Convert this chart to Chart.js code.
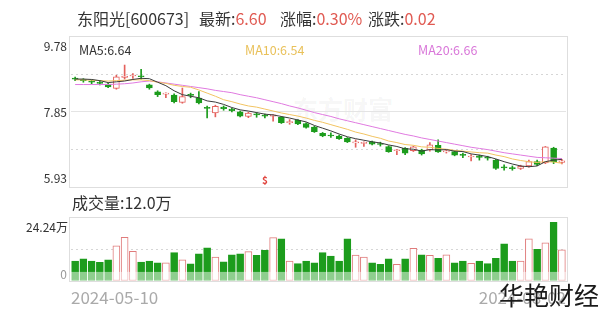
<!DOCTYPE html>
<html><head><meta charset="utf-8">
<script src="https://cdn.jsdelivr.net/npm/chart.js@4.4.1/dist/chart.umd.min.js"></script>
<style>
html,body{margin:0;padding:0;background:#fff;width:600px;height:313px;overflow:hidden;font-family:"Noto Sans CJK SC","Noto Sans",sans-serif;}
.t{position:absolute;white-space:nowrap;line-height:1;}
.r{color:#e05a52;}
#c1{position:absolute;left:0;top:0;}
#c2{position:absolute;left:0;top:190px;}
</style></head><body>
<div class="t" style="left:293px;top:96px;font-size:25px;color:rgba(0,0,0,0.05);font-weight:bold;">东方财富</div>
<canvas id="c1" width="600" height="190"></canvas>
<canvas id="c2" width="600" height="125"></canvas>
<div class="t" style="left:77px;top:10px;font-size:16px;color:#333">东阳光[600673]</div>
<div class="t" style="left:199px;top:10px;font-size:16px;color:#333">最新:<span class="r">6.60</span></div>
<div class="t" style="left:280px;top:10px;font-size:16px;color:#333">涨幅:<span class="r">0.30%</span></div>
<div class="t" style="left:368px;top:10px;font-size:16px;color:#333">涨跌:<span class="r">0.02</span></div>
<div class="t" style="left:79px;top:44px;font-size:12.5px;color:#333">MA5:6.64</div>
<div class="t" style="left:245px;top:44px;font-size:12.5px;color:#e9c15a">MA10:6.54</div>
<div class="t" style="left:418px;top:44px;font-size:12.5px;color:#d977d9">MA20:6.66</div>
<div class="t" style="left:72px;top:194px;font-size:16px;color:#333">成交量:12.0万</div>
<div class="t" style="left:499px;top:282px;font-size:25px;color:#1a1a1a;">华艳财经</div>
<script>
// ---- data ----
const dates = ["2024-05-10","2024-05-13","2024-05-14","2024-05-15","2024-05-16","2024-05-17","2024-05-20","2024-05-21","2024-05-22","2024-05-23","2024-05-24","2024-05-27","2024-05-28","2024-05-29","2024-05-30","2024-05-31","2024-06-03","2024-06-04","2024-06-05","2024-06-06","2024-06-07","2024-06-11","2024-06-12","2024-06-13","2024-06-14","2024-06-17","2024-06-18","2024-06-19","2024-06-20","2024-06-21","2024-06-24","2024-06-25","2024-06-26","2024-06-27","2024-06-28","2024-07-01","2024-07-02","2024-07-03","2024-07-04","2024-07-05","2024-07-08","2024-07-09","2024-07-10","2024-07-11","2024-07-12","2024-07-15","2024-07-16","2024-07-17","2024-07-18","2024-07-19","2024-07-22","2024-07-23","2024-07-24","2024-07-25","2024-07-26","2024-07-29","2024-07-30","2024-07-31","2024-08-01","2024-08-02"];
const openP = [8.72,8.69,8.65,8.60,8.57,8.46,8.74,8.78,8.78,8.55, 8.37,8.31,8.29,8.10,8.30,8.21,7.97,7.83,7.98,7.93, 7.86,7.74,7.80,7.77,7.75,7.72,7.58,7.64,7.56,7.47, 7.31,7.26,7.24,7.18,7.06,7.05,7.09,7.04,6.97,6.86, 6.92,6.86,6.88,6.88,7.00,6.83,6.84,6.77,6.70,6.73, 6.69,6.62,6.45,6.43,6.41,6.47,6.58,6.55,6.93,6.56];
const highP = [8.75,8.71,8.68,8.66,8.59,8.80,9.06,8.84,8.95,8.57, 8.40,8.35,8.32,8.47,8.34,8.38,8.01,8.03,8.01,7.95, 7.88,7.85,7.84,7.80,7.79,7.74,7.66,7.66,7.58,7.49, 7.33,7.32,7.26,7.20,7.14,7.09,7.11,7.08,6.99,6.89, 6.94,6.98,6.90,7.07,7.14,6.88,6.86,6.80,6.76,6.75, 6.72,6.64,6.50,6.47,6.49,6.62,6.62,6.97,6.95,6.64];
const lowP = [8.66,8.62,8.58,8.55,8.48,8.44,8.70,8.72,8.70,8.44, 8.25,8.22,8.09,8.08,8.22,8.06,7.70,7.73,7.90,7.86, 7.73,7.71,7.72,7.70,7.62,7.56,7.54,7.53,7.44,7.33, 7.22,7.20,7.15,7.07,6.95,6.97,7.01,6.98,6.82,6.76, 6.76,6.84,6.75,6.85,6.82,6.80,6.73,6.68,6.60,6.62, 6.62,6.38,6.36,6.36,6.38,6.44,6.48,6.53,6.53,6.52];
const closeP = [8.70,8.66,8.62,8.59,8.50,8.76,8.78,8.80,8.76,8.47, 8.30,8.34,8.12,8.25,8.28,8.09,7.95,8.00,7.94,7.89, 7.75,7.83,7.78,7.75,7.78,7.58,7.61,7.55,7.46,7.35, 7.24,7.24,7.17,7.09,7.09,7.07,7.03,7.02,6.84,6.88, 6.80,6.96,6.78,7.01,6.83,6.86,6.75,6.74,6.72,6.69, 6.67,6.41,6.42,6.40,6.46,6.58,6.51,6.96,6.58,6.60];
const ma5 = [8.70,8.70,8.69,8.66,8.61,8.63,8.65,8.69,8.72,8.71, 8.62,8.53,8.40,8.30,8.26,8.22,8.14,8.11,8.05,7.97, 7.91,7.88,7.84,7.80,7.78,7.74,7.70,7.65,7.60,7.51, 7.44,7.37,7.29,7.22,7.17,7.13,7.09,7.06,7.01,6.97, 6.91,6.90,6.85,6.89,6.88,6.89,6.85,6.84,6.78,6.75, 6.71,6.65,6.58,6.52,6.47,6.45,6.47,6.58,6.62,6.64];
const ma10 = [8.68,8.68,8.67,8.66,8.65,8.66,8.67,8.68,8.68,8.66, 8.62,8.59,8.54,8.51,8.49,8.42,8.34,8.26,8.17,8.12, 8.06,8.01,7.98,7.93,7.88,7.83,7.79,7.75,7.70,7.64, 7.59,7.53,7.47,7.41,7.34,7.29,7.23,7.18,7.11,7.07, 7.02,7.00,6.96,6.95,6.92,6.90,6.87,6.85,6.83,6.81, 6.80,6.75,6.71,6.65,6.61,6.58,6.56,6.58,6.57,6.54];
const ma20 = [8.56,8.56,8.56,8.56,8.56,8.57,8.58,8.60,8.63,8.65, 8.63,8.60,8.57,8.54,8.51,8.48,8.45,8.41,8.38,8.35, 8.30,8.26,8.22,8.17,8.12,8.07,8.01,7.96,7.90,7.84, 7.79,7.74,7.68,7.63,7.58,7.53,7.48,7.43,7.38,7.33, 7.28,7.24,7.19,7.15,7.11,7.07,7.03,6.99,6.95,6.92, 6.89,6.85,6.81,6.78,6.75,6.72,6.69,6.68,6.67,6.66];
const volume = [7.7,8.5,7.7,7.2,8.1,13.5,16.8,11.4,7.3,7.7, 7.0,7.0,10.9,8.1,6.6,10.5,12.8,9.2,7.4,10.1, 10.5,11.3,9.9,11.8,16.7,16.2,7.7,6.7,7.7,7.0, 10.9,9.6,7.7,16.2,10.0,9.2,7.0,6.4,8.5,6.4, 8.5,12.6,10.1,9.9,8.7,10.1,7.0,7.7,6.8,7.7, 6.7,8.7,14.3,7.7,7.7,16.2,12.2,14.7,22.6,12.0];
const priceTicks = [5.93, 7.855, 9.78];
const priceTickLabels = ["5.93", "7.85", "9.78"];
const volTicks = [0, 24.24];
const volTickLabels = ["0", "24.24万"];
const dividendIndex = 23;
const volFadeLevel = 3.5;

// ---- styles ----
const FONT = "'Noto Sans CJK SC','Noto Sans',sans-serif";
const GREEN = '#1c9c1c', RED = '#e4615c', VRED = '#e07b7b';
const up = closeP.map((c, i) => c >= openP[i]);

function frame(dl, dr) {
  return {
    id: 'frame' + dl,
    beforeDatasetsDraw(chart) {
      const a = chart.chartArea, c = chart.ctx;
      c.save(); c.strokeStyle = '#dedede'; c.lineWidth = 1;
      c.strokeRect(Math.round(a.left) - 0.5 - dl, Math.round(a.top) - 0.5, Math.round(a.right - a.left) + dl + dr, Math.round(a.bottom - a.top) + 1);
      c.restore();
    }
  };
}

const priceLabels = {
  id: 'priceLabels',
  afterDraw(chart) {
    const c = chart.ctx, y = chart.scales.y, a = chart.chartArea;
    c.save(); c.font = '12px ' + FONT; c.fillStyle = '#333'; c.textAlign = 'right';
    const base = ['bottom', 'middle', 'top'], off = [-3, 0, 3];
    priceTicks.forEach((v, i) => { c.textBaseline = base[i]; c.fillText(priceTickLabels[i], 67, y.getPixelForValue(v) + off[i]); });
    c.fillStyle = '#e0433c'; c.font = 'bold 10px ' + FONT; c.textAlign = 'center'; c.textBaseline = 'bottom';
    c.fillText('$', chart.scales.x.getPixelForValue(dividendIndex), a.bottom - 2);
    c.restore();
  }
};

const volLabels = {
  id: 'volLabels',
  afterDatasetsDraw(chart) {
    const c = chart.ctx, y = chart.scales.y, a = chart.chartArea;
    c.save(); c.fillStyle = 'rgba(255,255,255,0.5)';
    const yt = y.getPixelForValue(volFadeLevel);
    c.fillRect(a.left, yt, a.right - a.left, a.bottom - yt);
    c.restore();
  },
  afterDraw(chart) {
    const c = chart.ctx, y = chart.scales.y;
    c.save(); c.font = '12px ' + FONT; c.textAlign = 'right';
    c.fillStyle = '#999'; c.textBaseline = 'bottom'; c.fillText(volTickLabels[0], 67, y.getPixelForValue(volTicks[0]) - 1);
    c.fillStyle = '#333'; c.textBaseline = 'top'; c.fillText(volTickLabels[1], 68, y.getPixelForValue(volTicks[1]) + 3);
    c.restore();
  }
};

const priceGrid = [5.93, 6.8925, 7.855, 8.8175, 9.78];

new Chart(document.getElementById('c1'), {
  type: 'bar',
  data: {
    labels: dates,
    datasets: [
      { type: 'line', data: ma5, borderColor: '#3a3a3a', borderWidth: 1, pointRadius: 0, order: 0 },
      { type: 'line', data: ma10, borderColor: '#f2c462', borderWidth: 1, pointRadius: 0, order: 0 },
      { type: 'line', data: ma20, borderColor: '#e07ae0', borderWidth: 1, pointRadius: 0, order: 0 },
      { data: openP.map((o, i) => [o, closeP[i]]), backgroundColor: up.map(u => u ? '#fff' : GREEN), borderColor: up.map(u => u ? RED : GREEN), borderWidth: 1, borderSkipped: false, barThickness: 6, minBarLength: 1, grouped: false, order: 1 },
      { data: lowP.map((l, i) => [l, highP[i]]), backgroundColor: up.map(u => u ? RED : GREEN), borderWidth: 0, barThickness: 1, grouped: false, order: 2 }
    ]
  },
  options: {
    responsive: false, animation: false,
    layout: { padding: { left: 71, right: 34, top: 37, bottom: 3 } },
    plugins: { legend: { display: false }, tooltip: { enabled: false } },
    scales: {
      x: { type: 'category', offset: true, display: false },
      y: {
        min: 5.93, max: 9.78,
        afterBuildTicks: s => { s.ticks = priceGrid.map(v => ({ value: v })); },
        ticks: { display: false },
        grid: { drawTicks: false, color: ctx => (ctx.index === 0 || ctx.index === 4) ? 'rgba(0,0,0,0)' : (ctx.index === 2 ? '#e4e4e4' : '#d6d6d6') },
        border: { display: false, dash: ctx => ctx.index === 2 ? [] : [2, 3] }
      }
    }
  },
  plugins: [frame(1, 2), priceLabels]
});

new Chart(document.getElementById('c2'), {
  type: 'bar',
  data: {
    labels: dates,
    datasets: [
      { data: volume, backgroundColor: up.map(u => u ? '#fff' : GREEN), borderColor: up.map(u => u ? VRED : GREEN), borderWidth: 1, borderSkipped: false, barThickness: 7 }
    ]
  },
  options: {
    responsive: false, animation: false,
    layout: { padding: { left: 71, right: 34, top: 28, bottom: 1 } },
    plugins: { legend: { display: false }, tooltip: { enabled: false } },
    scales: {
      x: { type: 'category', offset: true, display: false },
      x2: {
        type: 'linear', position: 'bottom', min: 0, max: 1, offset: false,
        afterBuildTicks: s => { s.ticks = [{ value: 0 }, { value: 1 }]; },
        ticks: { align: 'inner', autoSkip: false, maxRotation: 0, padding: 6.3, color: '#aaa', font: { size: 17, family: FONT }, callback: (v, i) => i === 0 ? dates[0] : dates[dates.length - 1] },
        grid: { display: false, drawTicks: false, offset: false }, border: { display: false }
      },
      y: {
        min: 0, max: 24.24,
        afterBuildTicks: s => { s.ticks = [0, 12.12, 24.24].map(v => ({ value: v })); },
        ticks: { display: false },
        grid: { drawTicks: false, color: ctx => ctx.index === 1 ? '#d6d6d6' : 'rgba(0,0,0,0)' },
        border: { display: false, dash: [2, 3] }
      }
    }
  },
  plugins: [frame(1, 2), volLabels]
});
</script>
</body></html>
